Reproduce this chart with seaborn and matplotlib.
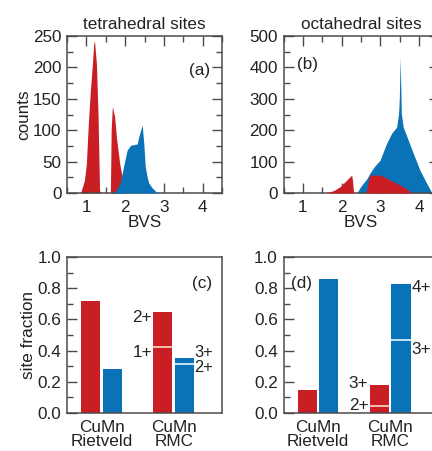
import numpy as np
import pandas as pd
import matplotlib
matplotlib.use("Agg")
import matplotlib.pyplot as plt
from matplotlib.ticker import MultipleLocator
import seaborn as sns

# ---------------- data ----------------
# (a) tetrahedral BVS distributions
tet_cu_bvs = [0.85, 0.95, 1.00, 1.05, 1.10, 1.155, 1.19, 1.21, 1.26, 1.30, 1.34, 1.36,
              1.62, 1.64, 1.67, 1.73, 1.775, 1.86, 1.95, 2.02, 2.08]
tet_cu_cnt = [0, 20, 47, 110, 160, 205, 238, 242, 205, 127, 5, 0,
              0, 100, 138, 121, 89, 47, 16, 6, 0]
tet_mn_bvs = [1.68, 1.78, 1.88, 1.96, 2.05, 2.14, 2.22, 2.31, 2.35, 2.40, 2.44,
              2.48, 2.52, 2.57, 2.61, 2.70, 2.80, 2.90]
tet_mn_cnt = [0, 5, 18, 42, 68, 76, 77, 78, 89, 100, 108,
              80, 42, 25, 16, 8, 2, 0]
# (b) octahedral BVS distributions
oct_cu_bvs = [1.60, 1.80, 1.96, 2.13, 2.26, 2.28, 2.31,
              2.63, 2.70, 2.73, 2.85, 2.99, 3.12, 3.25, 3.38, 3.51, 3.62, 3.72, 3.80]
oct_cu_cnt = [0, 8, 20, 41, 57, 40, 0,
              0, 45, 57, 57, 57, 50, 41, 33, 25, 18, 9, 0]
oct_mn_bvs = [2.39, 2.52, 2.65, 2.73, 2.85, 2.99, 3.16, 3.29, 3.42, 3.47, 3.49,
              3.51, 3.53, 3.54, 3.59, 3.72, 3.85, 4.02, 4.19, 4.33]
oct_mn_cnt = [0, 25, 45, 63, 85, 104, 158, 190, 210, 253, 305,
              431, 320, 253, 210, 168, 126, 73, 32, 0]

# (c), (d) site fractions
methods = ["CuMn\nRietveld", "CuMn\nRMC"]
ions = ["Cu", "Mn"]
tet_cu_frac = [0.72, 0.645]
tet_mn_frac = [0.28, 0.355]
oct_cu_frac = [0.145, 0.178]
oct_mn_frac = [0.857, 0.825]
# valence split inside the RMC bars (lower valence below the line)
tet_cu_split = 0.42
tet_mn_split = 0.315
oct_cu_split = 0.045
oct_mn_split = 0.465

RED = "#c81e24"
BLUE = "#0a72b6"
SPINE = "#4f4a4a"
TXT = "#222222"
FS = 12.3

sns.set_theme(style="ticks")
plt.rcParams["font.family"] = ["Liberation Sans", "DejaVu Sans"]
plt.rcParams["font.size"] = FS
plt.rcParams["axes.edgecolor"] = SPINE
plt.rcParams["axes.linewidth"] = 1.1
plt.rcParams["xtick.color"] = SPINE
plt.rcParams["ytick.color"] = SPINE
plt.rcParams["xtick.labelcolor"] = TXT
plt.rcParams["ytick.labelcolor"] = TXT
plt.rcParams["text.color"] = TXT
plt.rcParams["axes.labelcolor"] = TXT

W, H = 432, 451
fig = plt.figure(figsize=(W / 100, H / 100), dpi=100)
fig.patch.set_facecolor("white")


def box(x0, x1, ytop, ybot):
    return [x0 / W, 1 - ybot / H, (x1 - x0) / W, (ybot - ytop) / H]


ax_a = fig.add_axes(box(67, 222, 36, 193))
ax_b = fig.add_axes(box(283.5, 438.5, 36, 193))
ax_c = fig.add_axes(box(67, 222, 257, 413))
ax_d = fig.add_axes(box(283.5, 438.5, 257, 413))


def style_hist(ax, ymax, ymaj):
    ax.set_xlim(0.5, 4.5)
    ax.set_ylim(0, ymax)
    ax.xaxis.set_major_locator(MultipleLocator(1))
    ax.xaxis.set_minor_locator(MultipleLocator(0.5))
    ax.yaxis.set_major_locator(MultipleLocator(ymaj))
    ax.yaxis.set_minor_locator(MultipleLocator(ymaj / 2))
    ax.tick_params(which="both", direction="in", top=True, right=True, width=1.0)
    ax.tick_params(which="major", length=7)
    ax.tick_params(which="minor", length=4)
    ax.tick_params(axis="y", pad=4, labelsize=FS)
    ax.tick_params(axis="x", pad=5, labelsize=FS)
    ax.set_xlabel("BVS", fontsize=FS, labelpad=0)
    for s in ax.spines.values():
        s.set_visible(True)


# (a)
ax_a.fill_between(tet_cu_bvs, tet_cu_cnt, color=RED, lw=0, zorder=2)
ax_a.fill_between(tet_mn_bvs, tet_mn_cnt, color=BLUE, lw=0, zorder=3)
style_hist(ax_a, 250, 50)
ax_a.set_ylabel("counts", fontsize=FS, labelpad=1)
ax_a.set_title("tetrahedral sites", fontsize=FS, pad=5)
ax_a.text(4.2, 195, "(a)", ha="right", va="center", fontsize=FS)

# (b)
ax_b.fill_between(oct_mn_bvs, oct_mn_cnt, color=BLUE, lw=0, zorder=2)
ax_b.fill_between(oct_cu_bvs, oct_cu_cnt, color=RED, lw=0, zorder=3)
style_hist(ax_b, 500, 100)
ax_b.set_title("octahedral sites", fontsize=FS, pad=5)
ax_b.text(0.85, 410, "(b)", ha="left", va="center", fontsize=FS)


def bar_panel(ax, cu, mn):
    df = pd.DataFrame({
        "method": methods * 2,
        "ion": [ions[0]] * 2 + [ions[1]] * 2,
        "fraction": list(cu) + list(mn),
    })
    sns.barplot(data=df, x="method", y="fraction", hue="ion", hue_order=ions,
                palette=[RED, BLUE], width=0.6, gap=0.12, saturation=1,
                legend=False, ax=ax, edgecolor="none", linewidth=0)
    ax.set_xlim(-0.48, 1.67)
    ax.set_ylim(0, 1.0)
    ax.set_xlabel("")
    ax.set_ylabel("")
    ax.yaxis.set_major_locator(MultipleLocator(0.2))
    ax.yaxis.set_minor_locator(MultipleLocator(0.1))
    ax.yaxis.set_major_formatter(matplotlib.ticker.FormatStrFormatter("%.1f"))
    ax.tick_params(axis="y", which="both", direction="in", left=True, right=False,
                   width=1.0, pad=4, labelsize=FS)
    ax.tick_params(axis="y", which="major", length=7)
    ax.tick_params(axis="y", which="minor", length=4)
    ax.tick_params(axis="x", which="both", length=0, pad=5, labelsize=FS)
    for lab in ax.get_xticklabels():
        lab.set_linespacing(0.95)
    for s in ax.spines.values():
        s.set_visible(True)
    bars = [p for p in ax.patches if p.get_height() > 0]
    bars.sort(key=lambda p: p.get_x())
    return bars  # left to right: Cu-Riet, Mn-Riet, Cu-RMC, Mn-RMC


def split_line(ax, bar, y, color):
    x0 = bar.get_x()
    ax.hlines(y, x0, x0 + bar.get_width(), color=color, lw=1.3, zorder=5)


# (c)
bars_c = bar_panel(ax_c, tet_cu_frac, tet_mn_frac)
ax_c.set_ylabel("site fraction", fontsize=FS, labelpad=1)
ax_c.text(1.4, 0.83, "(c)", ha="center", va="center", fontsize=FS)
cu_rmc, mn_rmc = bars_c[2], bars_c[3]
split_line(ax_c, cu_rmc, tet_cu_split, "#f6cfb8")
split_line(ax_c, mn_rmc, tet_mn_split, "#d8ecf8")
xl = cu_rmc.get_x() - 0.02
xr = mn_rmc.get_x() + mn_rmc.get_width() + 0.0
ax_c.text(xl, tet_cu_frac[1] - 0.035, "2+", ha="right", va="center")
ax_c.text(xl, tet_cu_split - 0.035, "1+", ha="right", va="center")
ax_c.text(xr, tet_mn_frac[1] + 0.03, "3+", ha="left", va="center", fontsize=FS - 0.5)
ax_c.text(xr, tet_mn_split - 0.025, "2+", ha="left", va="center", fontsize=FS - 0.5)

# (d)
bars_d = bar_panel(ax_d, oct_cu_frac, oct_mn_frac)
ax_d.text(-0.37, 0.83, "(d)", ha="left", va="center", fontsize=FS)
cu_rmc, mn_rmc = bars_d[2], bars_d[3]
split_line(ax_d, cu_rmc, oct_cu_split, "#f6cfb8")
split_line(ax_d, mn_rmc, oct_mn_split, "#d8ecf8")
xl = cu_rmc.get_x() - 0.02
xr = mn_rmc.get_x() + mn_rmc.get_width() + 0.01
ax_d.text(xl, oct_cu_frac[1] + 0.01, "3+", ha="right", va="center")
ax_d.text(xl, oct_cu_split + 0.005, "2+", ha="right", va="center")
ax_d.text(xr, oct_mn_frac[1] - 0.02, "4+", ha="left", va="center")
ax_d.text(xr, oct_mn_split - 0.055, "3+", ha="left", va="center")

fig.savefig("out.png", dpi=100, facecolor="white")
